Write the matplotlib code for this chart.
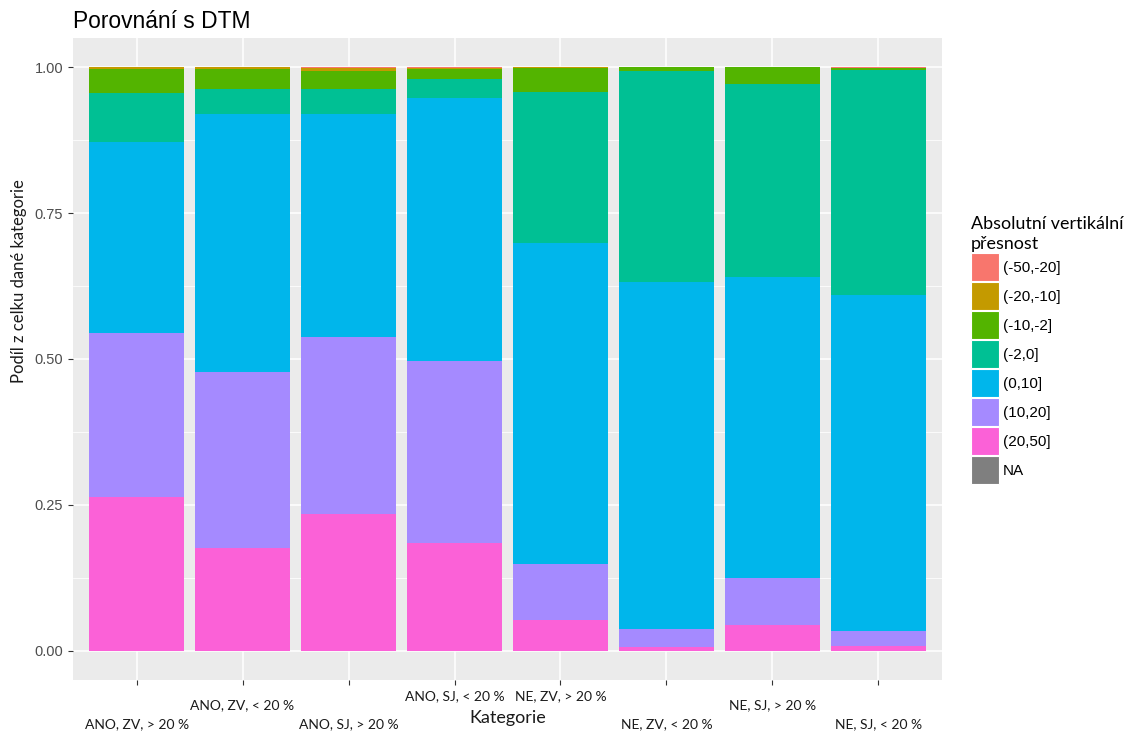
import matplotlib.pyplot as plt
from matplotlib.patches import Patch
from matplotlib.transforms import ScaledTranslation
import numpy as np

# categories along the x axis
kategorie = ["ANO, ZV, > 20 %", "ANO, ZV, < 20 %", "ANO, SJ, > 20 %", "ANO, SJ, < 20 %",
             "NE, ZV, > 20 %", "NE, ZV, < 20 %", "NE, SJ, > 20 %", "NE, SJ, < 20 %"]

# share of each accuracy class per category
tr_50_20 = [0.000, 0.000, 0.001, 0.002, 0.000, 0.000, 0.000, 0.0015]
tr_20_10 = [0.0034, 0.004, 0.006, 0.001, 0.001, 0.000, 0.000, 0.000]
tr_10_2 = [0.0416, 0.035, 0.030, 0.017, 0.041, 0.0074, 0.0275, 0.0035]
tr_2_0 = [0.084, 0.043, 0.044, 0.033, 0.260, 0.361, 0.331, 0.385]
tr_0_10 = [0.326, 0.441, 0.381, 0.450, 0.549, 0.594, 0.516, 0.576]
tr_10_20 = [0.282, 0.301, 0.303, 0.313, 0.096, 0.031, 0.080, 0.025]
tr_20_50 = [0.263, 0.177, 0.235, 0.184, 0.053, 0.007, 0.045, 0.009]
tr_na = [0, 0, 0, 0, 0, 0, 0, 0]

tridy = ["(-50,-20]", "(-20,-10]", "(-10,-2]", "(-2,0]", "(0,10]", "(10,20]", "(20,50]", "NA"]
barvy = ["#F8766D", "#C49A00", "#53B400", "#00C094", "#00B6EB", "#A58AFF", "#FB61D7", "#7F7F7F"]
hodnoty = [tr_50_20, tr_20_10, tr_10_2, tr_2_0, tr_0_10, tr_10_20, tr_20_50, tr_na]

# vertical offsets (px) of the staggered x labels
posun_px = [28, 9, 28, 0, 0, 28, 9, 28]

fig = plt.figure(figsize=(11.36, 7.33), dpi=100)
ax = fig.add_axes([73 / 1136, 53 / 733, 869 / 1136, 642 / 733])
ax.set_facecolor("#EBEBEB")

x = np.arange(1, len(kategorie) + 1)

# ggplot stacks the first level on top, so draw from the last one up
bottom = np.zeros(len(kategorie))
for trida, barva, vals in reversed(list(zip(tridy, barvy, hodnoty))):
    vals = np.array(vals)
    ax.bar(x, vals, bottom=bottom, width=0.9, color=barva, linewidth=0, zorder=2)
    bottom += vals

ax.set_xlim(0.4, len(kategorie) + 0.6)
ax.set_ylim(-0.05, 1.05)
ax.set_yticks([0, 0.25, 0.5, 0.75, 1.0])
ax.set_yticks([0.125, 0.375, 0.625, 0.875], minor=True)
ax.set_yticklabels(["0.00", "0.25", "0.50", "0.75", "1.00"])
ax.grid(True, which="major", color="white", linewidth=1.1, zorder=0)
ax.grid(True, which="minor", axis="y", color="white", linewidth=0.55, zorder=0)
ax.set_axisbelow(True)
for s in ax.spines.values():
    s.set_visible(False)

ax.tick_params(axis="both", which="major", length=3.6, width=0.8, color="#333333",
               labelcolor="#4D4D4D", pad=3.4)
ax.tick_params(axis="y", labelsize=10.5)
ax.tick_params(axis="y", which="minor", length=0)
for lab in ax.get_yticklabels():
    lab.set_fontfamily("Liberation Sans")

ax.set_xticks(x)
ax.set_xticklabels(kategorie, fontfamily="Lato", fontsize=10, color="#1A1A1A")
for lab, dy in zip(ax.get_xticklabels(), posun_px):
    lab.set_transform(lab.get_transform() + ScaledTranslation(0, -dy / 100, fig.dpi_scale_trans))

ax.set_xlabel("Kategorie", fontfamily="Lato", fontsize=13, color="#1A1A1A", va="top")
ax.xaxis.set_label_coords(0.5, -0.047)
ax.set_ylabel("Podíl z celku dané kategorie", fontfamily="Lato", fontsize=12, color="#1A1A1A")
ax.yaxis.set_label_coords(-0.053, 0.621)

ax.set_title("Porovnání s DTM", loc="left", fontfamily="Liberation Sans", fontsize=16.4, pad=7.5)

handles = [Patch(facecolor=b, edgecolor="white", linewidth=0.8) for b in barvy]
leg = fig.legend(handles, tridy, loc="upper left", bbox_to_anchor=(971 / 1136, 1 - 216 / 733),
                 frameon=False, handlelength=1.83, handleheight=2.445, labelspacing=0.065,
                 handletextpad=0.26, borderpad=0, borderaxespad=0,
                 prop={"family": "Liberation Sans", "size": 11},
                 title="Absolutní vertikální\npřesnost", alignment="left")
leg.get_title().set_fontfamily("Lato")
leg.get_title().set_fontsize(12.9)
leg.get_title().set_linespacing(1.32)

fig.savefig("out.png", dpi=100)
